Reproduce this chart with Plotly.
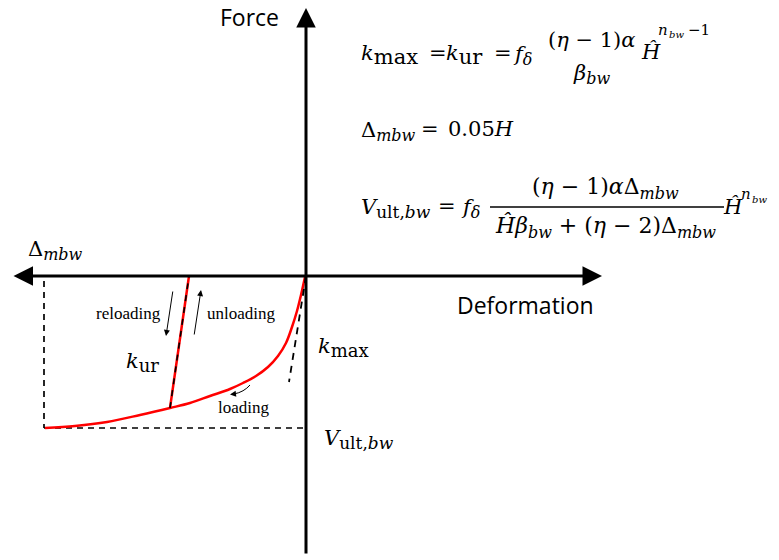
import plotly.graph_objects as go

# Origin of the force-deformation axes sits at the crossing point; one unit = one pixel
OX, OY = 306, 276

# Backbone (loading) curve, deformation vs force
loading_deform = [-261, -231, -199, -166, -136, -116, -96, -76, -63, -50, -38, -28, -20, -14, -9, -5, -1]
loading_force = [-152, -150, -146, -139, -132, -127, -120, -113, -107, -100, -91, -80, -67, -51, -35, -19, -1]

# Unloading / reloading branch with stiffness k_ur
reload_deform = [-136, -117]
reload_force = [-132, 0]

# Initial tangent with stiffness k_max
kmax_deform = [0, -17]
kmax_force = [0, -106]

# Ultimate capacity markers
delta_mbw = -262
v_ult = -152

SERIF = "DejaVu Serif"
LABEL_SERIF = "Liberation Serif"
SANS = "Open Sans"
MATH = 21

fig = go.Figure()

# Guide lines for Δ_mbw and V_ult
fig.add_trace(go.Scatter(x=[delta_mbw, delta_mbw], y=[-5, v_ult], mode="lines",
                         line=dict(color="black", width=1.7, dash="6px,5px"), hoverinfo="skip"))
fig.add_trace(go.Scatter(x=[delta_mbw, 0], y=[v_ult, v_ult], mode="lines",
                         line=dict(color="black", width=1.7, dash="6px,5px"), hoverinfo="skip"))

# Loading curve
fig.add_trace(go.Scatter(x=loading_deform, y=loading_force, mode="lines", line_shape="spline",
                         line=dict(color="red", width=2.5, smoothing=1.0), hoverinfo="skip"))

# Reload branch: red with a dashed black overlay
fig.add_trace(go.Scatter(x=reload_deform, y=reload_force, mode="lines",
                         line=dict(color="red", width=2.5), hoverinfo="skip"))
fig.add_trace(go.Scatter(x=reload_deform, y=reload_force, mode="lines",
                         line=dict(color="black", width=1.6, dash="6px,6px"), hoverinfo="skip"))

# k_max tangent
fig.add_trace(go.Scatter(x=kmax_deform, y=kmax_force, mode="lines",
                         line=dict(color="black", width=1.8, dash="7px,6px"), hoverinfo="skip"))


def px(x):
    return x - OX


def py(y):
    return OY - y


# Axes with arrowheads
fig.add_annotation(x=px(602), y=0, ax=px(12), ay=0, axref="x", ayref="y", xref="x", yref="y",
                   showarrow=True, arrowhead=2, arrowside="end+start", arrowsize=1.3,
                   arrowwidth=3, arrowcolor="black", text="", standoff=0, startstandoff=0)
fig.add_annotation(x=0, y=py(8), ax=0, ay=py(555), axref="x", ayref="y", xref="x", yref="y",
                   showarrow=True, arrowhead=2, arrowsize=1.3, arrowwidth=3,
                   arrowcolor="black", text="", standoff=0)

# Direction arrows
fig.add_annotation(x=px(166), y=py(336), ax=px(173), ay=py(290), axref="x", ayref="y",
                   showarrow=True, arrowhead=2, arrowsize=1.2, arrowwidth=1,
                   arrowcolor="black", text="", standoff=0)
fig.add_annotation(x=px(201), y=py(290), ax=px(194), ay=py(336), axref="x", ayref="y",
                   showarrow=True, arrowhead=2, arrowsize=1.2, arrowwidth=1,
                   arrowcolor="black", text="", standoff=0)
fig.add_shape(type="path", xref="x", yref="y",
              path=f"M {px(250)},{py(385)} Q {px(244)},{py(392)} {px(234)},{py(394)}",
              line=dict(color="black", width=1))
fig.add_annotation(x=px(230), y=py(394.5), ax=px(236), ay=py(393.8), axref="x", ayref="y",
                   showarrow=True, arrowhead=2, arrowsize=1.2, arrowwidth=1,
                   arrowcolor="black", text="", standoff=0)


def txt(x, y, s, size=MATH, family=SERIF, xanchor="left", yanchor="middle"):
    fig.add_annotation(x=px(x), y=py(y), text=s, showarrow=False, xanchor=xanchor,
                       yanchor=yanchor, font=dict(family=family, size=size, color="black"))


def sub(s, size):
    return f'<sub><span style="font-size:{size}px">{s}</span></sub>'


# Axis titles
fig.add_annotation(x=px(249), y=1, xref="x", yref="paper", text="Force", showarrow=False,
                   xanchor="center", yanchor="top", borderpad=0,
                   font=dict(family=SANS, size=23, color="black"))
txt(525, 305, "Deformation", size=23, family=SANS, xanchor="center")

# Branch labels
txt(128, 313, "reloading", size=17, family=LABEL_SERIF, xanchor="center")
txt(241, 313, "unloading", size=17, family=LABEL_SERIF, xanchor="center")
txt(243, 407, "loading", size=17, family=LABEL_SERIF, xanchor="center")

# Symbol labels on the diagram
txt(26, 250, "Δ" + sub("<i>mbw</i>", 16))
txt(124, 362, "<i>k</i>" + sub("ur", 18))
txt(316, 347, "<i>k</i>" + sub("max", 18))
txt(322, 439, "<i>V</i>" + sub("ult,<i>bw</i>", 17))

# Equation 1: stiffness
txt(359, 55, "<i>k</i>" + sub("max", 21))
txt(427, 53, "=")
txt(444, 55, "<i>k</i>" + sub("ur", 21))
txt(492, 53, "=")
txt(511, 55, "<i>f</i>" + sub("<i>δ</i>", 16))
txt(591, 40, "(<i>η</i> − 1)<i>α</i>", xanchor="center")
txt(591, 74, "<i>β</i>" + sub("<i>bw</i>", 16), xanchor="center")
txt(639, 52, "<i>Ĥ</i>")
txt(656, 30, "<i>n</i>", size=15)
txt(667, 34, "<i>bw</i>", size=10)
txt(686, 30, "−1", size=15)

# Equation 2: deformation limit
txt(359, 131, "Δ" + sub("<i>mbw</i>", 16))
txt(419, 129, "=")
txt(446, 129, "0.05<i>H</i>")

# Equation 3: ultimate force
txt(359, 208, "<i>V</i>" + sub("ult,<i>bw</i>", 17))
txt(436, 206, "=")
txt(459, 208, "<i>f</i>" + sub("<i>δ</i>", 16))
txt(605, 188, "(<i>η</i> − 1)<i>α</i>Δ" + sub("<i>mbw</i>", 16), size=22, xanchor="center")
fig.add_shape(type="line", xref="x", yref="y", x0=px(490), x1=px(724), y0=py(207), y1=py(207),
              line=dict(color="black", width=1.5))
txt(605, 227, "<i>Ĥβ</i>" + sub("<i>bw</i>", 16) + " + (<i>η</i> − 2)Δ" + sub("<i>mbw</i>", 16),
    size=22, xanchor="center")
txt(721, 207, "<i>Ĥ</i>")
txt(739, 194, "<i>n</i>", size=15)
txt(750, 199, "<i>bw</i>", size=10)

fig.update_layout(
    width=779, height=560, margin=dict(l=0, r=0, t=0, b=0),
    paper_bgcolor="white", plot_bgcolor="white", showlegend=False,
    xaxis=dict(range=[-OX, 779 - OX], visible=False, fixedrange=True),
    yaxis=dict(range=[OY - 560, OY], visible=False, fixedrange=True),
)

fig.write_html("out.html")
